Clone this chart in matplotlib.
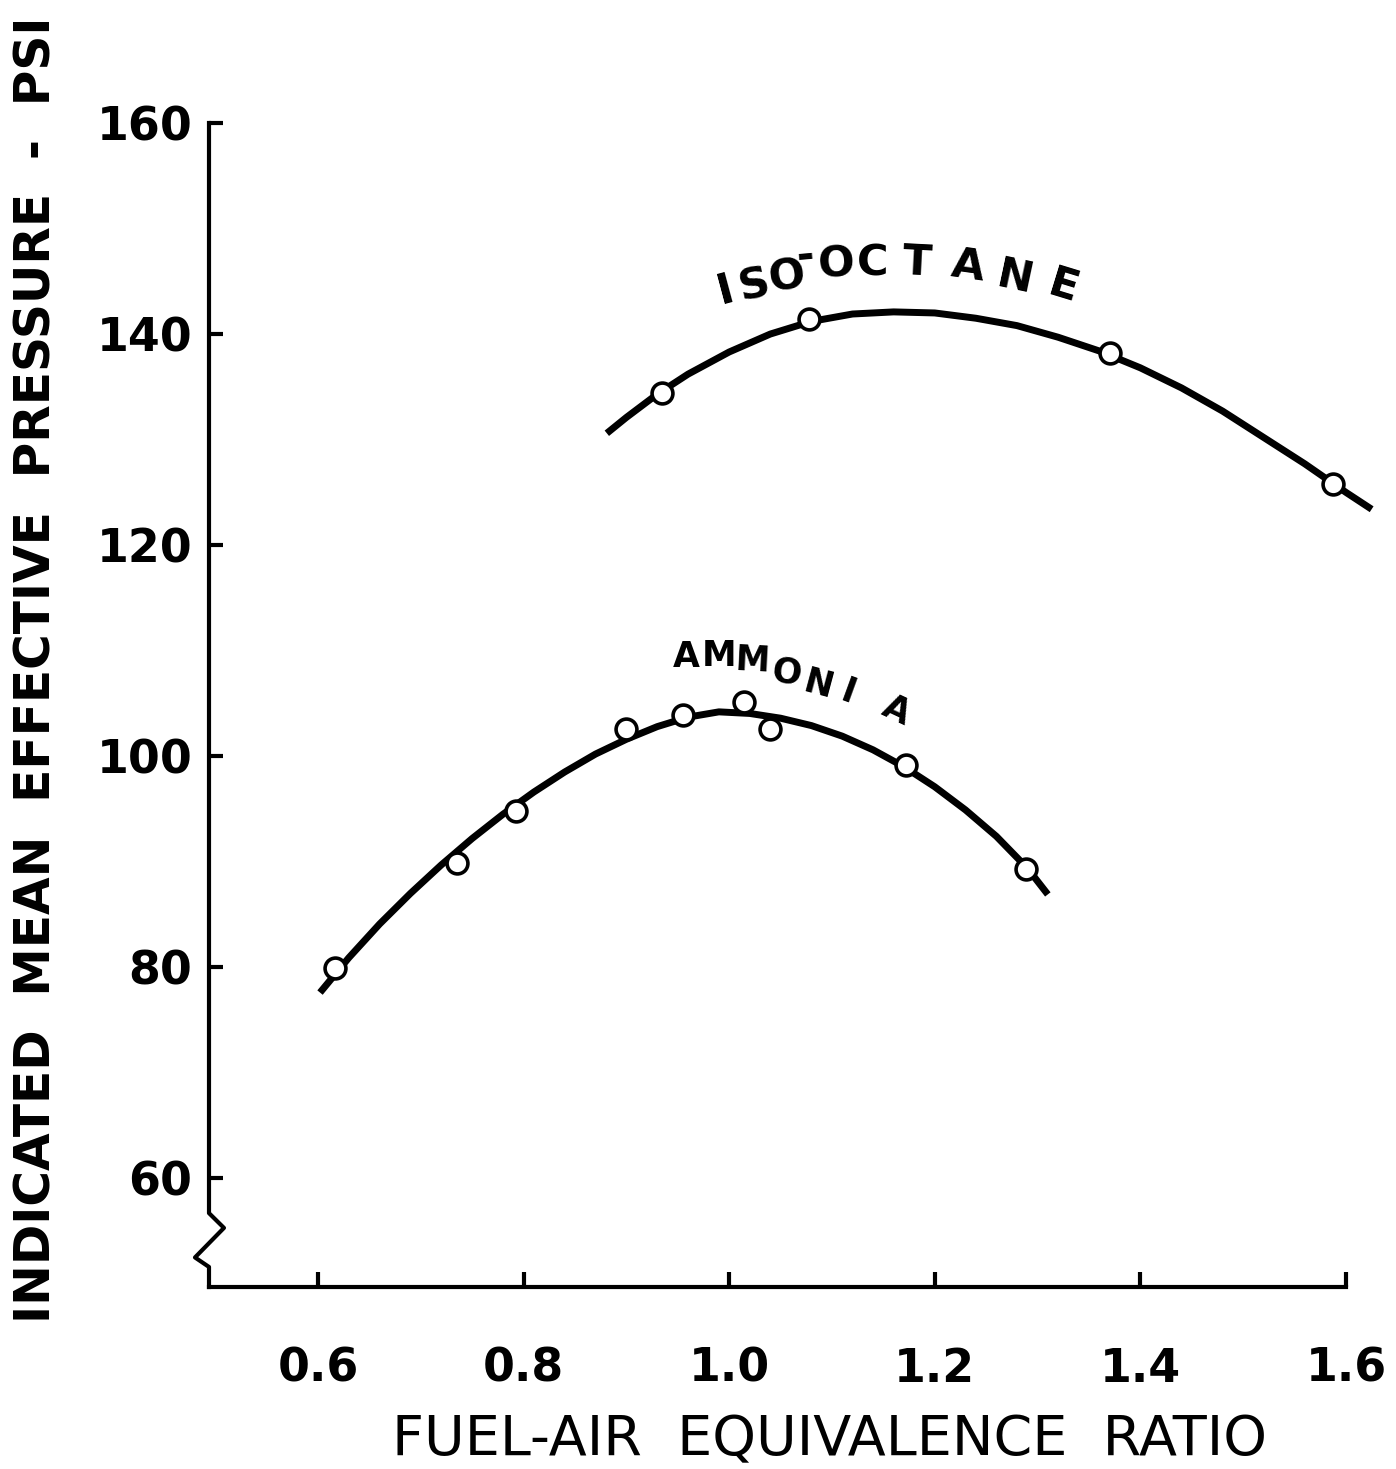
import matplotlib
matplotlib.use("Agg")
import matplotlib.pyplot as plt

# marker data
iso_x = [0.935, 1.078, 1.370, 1.587]
iso_y = [134.4, 141.4, 138.2, 125.8]
amm_x = [0.617, 0.735, 0.793, 0.900, 0.955, 1.014, 1.040, 1.172, 1.289]
amm_y = [79.9, 89.9, 94.8, 102.6, 103.9, 105.1, 102.6, 99.2, 89.3]

# faired curves
iso_cx = [0.881, 0.90, 0.93, 0.96, 1.00, 1.04, 1.08, 1.12, 1.16, 1.20, 1.24, 1.28, 1.32,
          1.36, 1.40, 1.44, 1.48, 1.52, 1.56, 1.60, 1.625]
iso_cy = [130.6, 132.1, 134.3, 136.2, 138.3, 140.0, 141.2, 141.9, 142.1, 142.0, 141.5, 140.8, 139.7,
          138.4, 136.8, 134.9, 132.7, 130.2, 127.7, 125.0, 123.4]
amm_cx = [0.602, 0.63, 0.66, 0.69, 0.72, 0.75, 0.78, 0.81, 0.84, 0.87, 0.90, 0.93, 0.96, 0.99,
          1.02, 1.05, 1.08, 1.11, 1.14, 1.17, 1.20, 1.23, 1.26, 1.29, 1.31]
amm_cy = [77.6, 80.9, 84.1, 87.0, 89.7, 92.2, 94.5, 96.6, 98.5, 100.2, 101.6, 102.8, 103.7, 104.2,
          104.05, 103.6, 102.9, 101.9, 100.6, 99.0, 97.1, 94.9, 92.4, 89.4, 86.9]

xticks = [0.6, 0.8, 1.0, 1.2, 1.4, 1.6]
xticklabels = ["0.6", "0.8", "1.0", "1.2", "1.4", "1.6"]
yticks = [60, 80, 100, 120, 140, 160]

fig = plt.figure(figsize=(13.96, 14.69), dpi=100)
ax = fig.add_axes([209/1396, (1469-1287)/1469, 1187/1396, (1287-123)/1469])
ax.set_xlim(0.494, 1.6487)
ax.set_ylim(49.7, 160)

ax.plot(iso_cx, iso_cy, color="black", lw=5, solid_capstyle="butt", clip_on=False)
ax.plot(amm_cx, amm_cy, color="black", lw=5, solid_capstyle="butt", clip_on=False)
ax.plot(iso_x, iso_y, "o", ms=15, mfc="white", mec="black", mew=2.6, clip_on=False)
ax.plot(amm_x, amm_y, "o", ms=15, mfc="white", mec="black", mew=2.6, clip_on=False)

# curve labels, letter by letter along an arc
iso_letters = [("I", 0.997, 144.1, 15), ("S", 1.025, 144.6, 12), ("O", 1.056, 145.4, 8),
               ("-", 1.074, 147.4, 5), ("O", 1.104, 146.6, 3), ("C", 1.140, 146.7, 0),
               ("T", 1.183, 146.8, -3), ("A", 1.232, 146.4, -8), ("N", 1.278, 145.3, -12),
               ("E", 1.325, 144.5, -17)]
for ch, x, y, r in iso_letters:
    ax.text(x, y, ch, rotation=r, ha="center", va="center", fontsize=31, fontweight="bold")

amm_letters = [("A", 0.958, 109.4, 0), ("M", 0.990, 109.5, 0), ("M", 1.023, 109.0, -3),
               ("O", 1.056, 107.9, -8), ("N", 1.087, 106.7, -15), ("I", 1.116, 106.0, -20),
               ("A", 1.163, 104.3, -25)]
for ch, x, y, r in amm_letters:
    ax.text(x, y, ch, rotation=r, ha="center", va="center", fontsize=25, fontweight="bold")

# axes frame with the broken y axis
for s in ["top", "right", "left"]:
    ax.spines[s].set_visible(False)
ax.spines["bottom"].set_linewidth(3)
ax.spines["bottom"].set_bounds(0.494, 1.6)
ax.plot([0, 0, 0.0126, -0.0118, 0, 0], [160, 56.7, 55.3, 52.5, 51.6, 49.7],
        color="black", lw=3, transform=ax.get_yaxis_transform(), clip_on=False)

ax.set_xticks(xticks)
ax.set_xticklabels(xticklabels)
ax.set_yticks(yticks)
ax.tick_params(axis="x", direction="in", length=11, width=3, pad=43, labelsize=33)
ax.tick_params(axis="y", direction="in", length=10, width=3, pad=12, labelsize=33)
for lab in ax.get_xticklabels() + ax.get_yticklabels():
    lab.set_fontweight("bold")

fig.text(37/1396, 1 - 670/1469, "INDICATED  MEAN  EFFECTIVE  PRESSURE  -  PSI", rotation=90,
         ha="center", va="center", fontsize=35, fontweight="bold")
fig.text(830/1396, 1 - 1440/1469, "FUEL-AIR  EQUIVALENCE  RATIO", ha="center", va="center",
         fontsize=40)

fig.savefig("out.png", dpi=100)
